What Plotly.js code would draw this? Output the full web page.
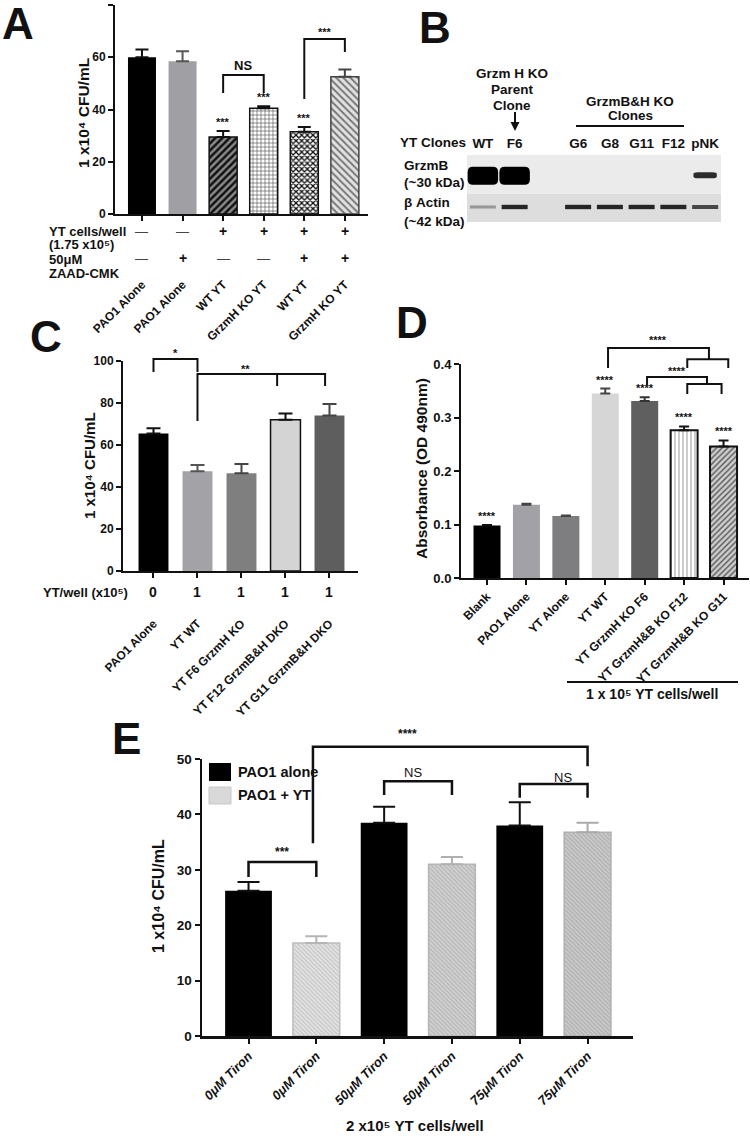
<!DOCTYPE html>
<html><head><meta charset="utf-8">
<script src="https://cdn.plot.ly/plotly-3.0.1.min.js"></script>
<style>body{margin:0;background:#fff}#chart{width:750px;height:1136px}</style>
</head><body><div id="chart"></div>
<script>
// ================= DATA =================
// Panel A
const aCategories = ['PAO1 Alone','PAO1 Alone','WT YT','GrzmH KO YT','WT YT','GrzmH KO YT'];
const aValues = [60, 58.5, 29.5, 40.5, 31.5, 52.5];
const aErrors = [3, 3.8, 2.3, 0.7, 1.8, 2.8];
const aYtCells = ['—','—','+','+','+','+'];
const aZaad = ['—','+','—','—','+','+'];
const aStars = ['','','***','***','***',''];
const aYTicks = [0,20,40,60,80];
// Panel B (western blot, relative band intensities)
const bLanes = ['WT','F6','G6','G8','G11','F12','pNK'];
const bLaneSlots = [0,1,3,4,5,6,7];
const bGrzmB = [1.0,1.0,0,0,0,0,0.6];
const bActin = [0.45,0.95,0.95,0.95,0.95,0.95,0.8];
// Panel C
const cCategories = ['PAO1 Alone','YT WT','YT F6 GrzmH KO','YT F12 GrzmB&H DKO','YT G11 GrzmB&H DKO'];
const cYtPerWell = ['0','1','1','1','1'];
const cValues = [65.5, 47.5, 46.5, 72, 74];
const cErrors = [2.5, 3, 4.5, 3, 5.5];
const cYTicks = [0,20,40,60,80,100];
// Panel D
const dCategories = ['Blank','PAO1 Alone','YT Alone','YT WT','YT GrzmH KO F6','YT GrzmH&B KO F12','YT GrzmH&B KO G11'];
const dValues = [0.098,0.137,0.116,0.345,0.331,0.276,0.246];
const dErrors = [0.001,0.002,0.001,0.009,0.007,0.007,0.011];
const dStars = ['****','','','****','****','****','****'];
const dYTicks = [0,0.1,0.2,0.3,0.4];
// Panel E
const eCategories = ['0μM Tiron','0μM Tiron','50μM Tiron','50μM Tiron','75μM Tiron','75μM Tiron'];
const eSeries = ['PAO1 alone','PAO1 + YT'];
const eValues = [26.2,16.8,38.5,31.0,38.0,36.8];
const eErrors = [1.6,1.2,2.9,1.3,4.2,1.7];
const eYTicks = [0,10,20,30,40,50];

// ================= GEOMETRY / STYLE =================
const W=750,H=1136;
const FONT='"Liberation Sans", Arial, Helvetica, sans-serif';
const INK='#111';
const P={
 A:{x:[115,368],y:[214,5],xr:[-0.665,5.57],yr:[0,80],xa:'x',ya:'y',bw:0.69,ew:6.5},
 C:{x:[123,358],y:[571,361],xr:[-0.693,4.648],yr:[0,100],xa:'x2',ya:'y2',bw:0.68,ew:7},
 D:{x:[461,749],y:[578,364],xr:[-0.66,6.646],yr:[0,0.4],xa:'x3',ya:'y3',bw:0.685,ew:5},
 E:{x:[202,633],y:[1036,759],xr:[-0.686,5.67],yr:[0,50],xa:'x4',ya:'y4',bw:0.69,ew:11},
 B:{x:[467,721],y:[222,155],xr:[-0.5,7.5],yr:[0,1],xa:'x5',ya:'y5'}
};
const fx=px=>px/W, fy=py=>1-py/H;
const toPx=(p,v)=>p.x[0]+(v-p.xr[0])/(p.xr[1]-p.xr[0])*(p.x[1]-p.x[0]);
const toPy=(p,v)=>p.y[0]+(v-p.yr[0])/(p.yr[1]-p.yr[0])*(p.y[1]-p.y[0]);
function fnt(size,extra){return Object.assign({family:FONT,size:size,color:INK,weight:'bold'},extra||{});}

const styleA=[
 {color:'#000'},
 {color:'#a0a0a4',ec:'#555'},
 {color:'#8a8a8a',pat:'/',fg:'#111',ps:5,sol:0.5,lc:INK,lw:1.5},
 {color:'#ffffff',pat:'+',fg:'#555',ps:4,sol:0.3,lc:INK,lw:1.5},
 {color:'#ffffff',pat:'x',fg:'#111',ps:4,sol:0.55,lc:INK,lw:1.5},
 {color:'#e2e2e2',pat:'\\',fg:'#777',ps:5,sol:0.4,lc:'#444',lw:1.5,ec:'#444'}
];
const styleC=[
 {color:'#000'},
 {color:'#a3a3a7',ec:'#555'},
 {color:'#7f7f7f',ec:'#444'},
 {color:'#d4d4d4',lc:INK,lw:1.5},
 {color:'#5e5e5e',ec:'#444'}
];
const styleD=[
 {color:'#000'},
 {color:'#a2a2a6',ec:'#444'},
 {color:'#7e7e80',ec:'#444'},
 {color:'#d6d6d6',ec:'#444'},
 {color:'#5f5f5f',ec:'#333'},
 {color:'#ffffff',pat:'|',fg:'#aaa',ps:4,sol:0.3,lc:INK,lw:2},
 {color:'#cfcfcf',pat:'/',fg:'#555',ps:4,sol:0.35,lc:INK,lw:2}
];
const styleE=[
 {color:'#000'},
 {color:'#e4e4e4',pat:'\\',fg:'#c4c4c4',ps:3,sol:0.4,lc:'#bdbdbd',lw:1.5,ec:'#b5b5b5'},
 {color:'#000'},
 {color:'#d2d2d2',pat:'\\',fg:'#b4b4b4',ps:3,sol:0.4,lc:'#b5b5b5',lw:1.5,ec:'#b0b0b0'},
 {color:'#000'},
 {color:'#cbcbcb',pat:'\\',fg:'#adadad',ps:3,sol:0.4,lc:'#b0b0b0',lw:1.5,ec:'#aaa'}
];

// ================= TRACES =================
const traces=[];
function addBars(p,values,errors,styles){
 values.forEach((v,i)=>{
  const s=styles[i];
  traces.push({type:'bar',x:[i],y:[v],width:p.bw,xaxis:p.xa,yaxis:p.ya,
   marker:{color:s.color,line:{color:s.lc||s.color,width:s.lw||0},
     pattern:s.pat?{shape:s.pat,fgcolor:s.fg,bgcolor:s.color,size:s.ps,solidity:s.sol,fillmode:'replace'}:{shape:''}},
   error_y:{type:'data',symmetric:false,array:[errors[i]],arrayminus:[0],color:s.ec||INK,thickness:2,width:p.ew},
   showlegend:false,hoverinfo:'skip'});
 });
}
addBars(P.A,aValues,aErrors,styleA);
addBars(P.C,cValues,cErrors,styleC);
addBars(P.D,dValues,dErrors,styleD);
addBars(P.E,eValues,eErrors,styleE);

// blot: actin bands as thick line segments on x5/y5
const ACTIN_Y=0.224;
bLaneSlots.forEach((s,i)=>{
 const g=Math.round(255*(1-bActin[i]*0.9));
 traces.push({type:'scatter',mode:'lines',x:[s-0.41,s+0.41],y:[ACTIN_Y,ACTIN_Y],xaxis:'x5',yaxis:'y5',
  line:{color:`rgb(${g},${g},${g})`,width:2+2.5*bActin[i]},showlegend:false,hoverinfo:'skip'});
});

// ================= AXES =================
function xAx(p,cats,extra){
 return Object.assign({domain:[fx(p.x[0]),fx(p.x[1])],range:p.xr,anchor:p.ya,showline:true,linecolor:INK,linewidth:2,
  ticks:'outside',ticklen:5,tickwidth:2,tickcolor:INK,tickvals:cats.map((_,i)=>i),ticktext:cats,tickangle:-45,
  tickfont:fnt(12),showgrid:false,zeroline:false,fixedrange:true},extra||{});
}
function yAx(p,vals,extra){
 return Object.assign({domain:[fy(p.y[0]),fy(p.y[1])],range:p.yr,anchor:p.xa,showline:true,linecolor:INK,linewidth:2,
  ticks:'outside',ticklen:5,tickwidth:2,tickcolor:INK,tickvals:vals,tickfont:fnt(12),showgrid:false,zeroline:false,fixedrange:true},extra||{});
}

// ================= SHAPES & ANNOTATIONS =================
const shapes=[], anns=[];
function ann(text,px,py,opts){
 const o=Object.assign({size:12},opts||{});
 const a={xref:'paper',yref:'paper',x:fx(px),y:fy(py),text:text,showarrow:false,xanchor:o.xanchor||'center',yanchor:o.yanchor||'middle',
  font:fnt(o.size,o.font||{})};
 if(o.textangle!==undefined)a.textangle=o.textangle;
 anns.push(a);
}
function annD(p,text,xv,yv,opts){ann(text,toPx(p,xv),toPy(p,yv),opts);}
function brk(p,segs,w){
 let d='';
 segs.forEach(seg=>{seg.forEach((pt,k)=>{d+=(k?'L':'M')+fx(toPx(p,pt[0])).toFixed(5)+','+fy(toPy(p,pt[1])).toFixed(5)+' ';});});
 shapes.push({type:'path',xref:'paper',yref:'paper',path:d,line:{color:INK,width:w||2}});
}

// Panel letters
ann('A',18,23,{size:44});
ann('B',435,27,{size:44});
ann('C',46,336,{size:44});
ann('D',412,322,{size:44});
ann('E',126,738,{size:44});

// ---- Panel A
ann('1 x10⁴ CFU/mL',83,113,{size:15.5,textangle:-90});
aStars.forEach((s,i)=>{ if(s) annD(P.A,s,i,aValues[i]+aErrors[i]+3.6,{size:11}); });
brk(P.A,[[[2,46.3],[2,53.2],[3,53.2],[3,46.3]]]);
annD(P.A,'NS',2.5,57,{size:13});
brk(P.A,[[[4,44],[4,67],[5,67],[5,62]]]);
annD(P.A,'***',4.5,69.5,{size:11});
ann('YT cells/well',47,231,{size:13,xanchor:'left'});
ann('(1.75 x10⁵)',47,245,{size:13,xanchor:'left'});
ann('50μM',47,259,{size:13,xanchor:'left'});
ann('ZAAD-CMK',47,274,{size:13,xanchor:'left'});
aYtCells.forEach((s,i)=>ann(s,toPx(P.A,i),231,{size:s==='+'?14:13,font:s==='+'?{}:{weight:'normal',color:'#444'}}));
aZaad.forEach((s,i)=>ann(s,toPx(P.A,i),258,{size:s==='+'?14:13,font:s==='+'?{}:{weight:'normal',color:'#444'}}));

// ---- Panel B (blot)
shapes.push({type:'rect',xref:'x5',yref:'y5',x0:-0.5,x1:7.5,y0:0.42,y1:1,fillcolor:'#ebebeb',line:{width:0},layer:'below'});
shapes.push({type:'rect',xref:'x5',yref:'y5',x0:-0.5,x1:7.5,y0:0,y1:0.42,fillcolor:'#dddddd',line:{width:0},layer:'below'});
function rrect(x0,x1,y0,y1,rx,ry){
 return `M${x0+rx},${y0} L${x1-rx},${y0} Q${x1},${y0} ${x1},${y0+ry} L${x1},${y1-ry} Q${x1},${y1} ${x1-rx},${y1} L${x0+rx},${y1} Q${x0},${y1} ${x0},${y1-ry} L${x0},${y0+ry} Q${x0},${y0} ${x0+rx},${y0} Z`;
}
bLaneSlots.forEach((s,i)=>{
 const v=bGrzmB[i]; if(v<=0) return;
 const hw=0.2+0.28*v, hh=0.03+0.105*Math.pow(v,4), cy=0.69+0.02*(1-v);
 const g=Math.round(110*(1-v));
 shapes.push({type:'path',xref:'x5',yref:'y5',path:rrect(s-hw,s+hw,cy-hh,cy+hh,hw*0.35,hh*0.6),
  fillcolor:`rgb(${g},${g},${g})`,line:{width:0}});
});
ann('YT Clones',398,142,{size:13.5,xanchor:'left'});
ann('GrzmB',402,165,{size:13.5,xanchor:'left'});
ann('(~30 kDa)',402,183,{size:13.5,xanchor:'left'});
ann('β Actin',402,203,{size:13.5,xanchor:'left'});
ann('(~42 kDa)',402,221,{size:13.5,xanchor:'left'});
ann('Grzm H KO',512,73,{size:13.5});
ann('Parent',512,89,{size:13.5});
ann('Clone',512,105,{size:13.5});
shapes.push({type:'line',xref:'paper',yref:'paper',x0:fx(515),x1:fx(515),y0:fy(112),y1:fy(124),line:{color:INK,width:2}});
shapes.push({type:'path',xref:'paper',yref:'paper',path:`M${fx(510.5)},${fy(122)} L${fx(519.5)},${fy(122)} L${fx(515)},${fy(131)} Z`,fillcolor:INK,line:{width:0}});
ann('GrzmB&H KO',630,101,{size:13.5});
ann('Clones',630,116,{size:13.5});
shapes.push({type:'line',xref:'paper',yref:'paper',x0:fx(576),x1:fx(684),y0:fy(126),y1:fy(126),line:{color:INK,width:2}});

// ---- Panel C
ann('1 x10⁴ CFU/mL',90,466,{size:15,textangle:-90});
brk(P.C,[[[0,94.8],[0,100.95],[1,100.95],[1,94.8]]]);
annD(P.C,'*',0.5,103.6,{size:11});
brk(P.C,[[[1,71.4],[1,93.8],[3.9,93.8],[3.9,88.1]],[[2.81,93.8],[2.81,88.1]]]);
annD(P.C,'**',2.08,96,{size:11});
ann('YT/well (x10⁵)',130,592,{size:13,xanchor:'right'});
cYtPerWell.forEach((s,i)=>ann(s,toPx(P.C,i),592,{size:14}));

// ---- Panel D
ann('Absorbance (OD 490nm)',422,469,{size:15.5,textangle:-90});
dStars.forEach((s,i)=>{ if(s) annD(P.D,s,i,dValues[i]+dErrors[i]+0.017,{size:11}); });
brk(P.D,[[[3.07,0.3925],[3.07,0.430],[5.63,0.430],[5.63,0.409]],[[5.08,0.3925],[5.08,0.409],[6.12,0.409],[6.12,0.3925]]]);
annD(P.D,'****',4.34,0.445,{size:11});
brk(P.D,[[[4.06,0.3607],[4.06,0.3757],[5.58,0.3757],[5.58,0.3626]],[[5.08,0.344],[5.08,0.3626],[5.95,0.3626],[5.95,0.344]]]);
annD(P.D,'****',4.82,0.387,{size:11});
shapes.push({type:'line',xref:'paper',yref:'paper',x0:fx(567),x1:fx(738),y0:fy(682),y1:fy(682),line:{color:INK,width:2}});
ann('1 x 10⁵ YT cells/well',652,694,{size:14});

// ---- Panel E
ann('1 x10⁴ CFU/mL',159,896,{size:16,textangle:-90});
brk(P.E,[[[0,28.7],[0,31.4],[1,31.4],[1,28.7]]],2.5);
annD(P.E,'***',0.5,33.2,{size:12});
brk(P.E,[[[0.95,34.8],[0.95,52.2],[5,52.2],[5,48.7]]],2.5);
annD(P.E,'****',2.35,54.6,{size:12});
brk(P.E,[[[2,43.5],[2,46.0],[3,46.0],[3,43.5]]],2.5);
annD(P.E,'NS',2.43,47.6,{size:13,font:{weight:'normal',family:'"Liberation Sans Narrow", "Liberation Sans", Arial'}});
brk(P.E,[[[4,43.0],[4,45.5],[5,45.5],[5,43.0]]],2.5);
annD(P.E,'NS',4.64,46.6,{size:13,font:{weight:'normal',family:'"Liberation Sans Narrow", "Liberation Sans", Arial'}});
// legend
shapes.push({type:'rect',xref:'paper',yref:'paper',x0:fx(209),x1:fx(231),y0:fy(763),y1:fy(781),fillcolor:'#000',line:{width:0}});
shapes.push({type:'rect',xref:'paper',yref:'paper',x0:fx(209),x1:fx(231),y0:fy(787),y1:fy(804),fillcolor:'#d9d9d9',line:{color:'#c8c8c8',width:1}});
ann(eSeries[0],236,772,{size:14.5,xanchor:'left'});
ann(eSeries[1],236,795,{size:14.5,xanchor:'left'});
ann('2 x10⁵ YT cells/well',415,1125,{size:15});

// ================= LAYOUT =================
const layout={
 width:W,height:H,margin:{l:0,r:0,t:0,b:0},paper_bgcolor:'#fff',plot_bgcolor:'rgba(0,0,0,0)',
 barmode:'overlay',showlegend:false,font:{family:FONT,color:INK},
 xaxis:xAx(P.A,aCategories,{ticklabelstandoff:52}),
 yaxis:yAx(P.A,aYTicks),
 xaxis2:xAx(P.C,cCategories,{ticklabelstandoff:34}),
 yaxis2:yAx(P.C,cYTicks),
 xaxis3:xAx(P.D,dCategories,{tickfont:fnt(12)}),
 yaxis3:yAx(P.D,dYTicks,{tickformat:'.1f',tickfont:fnt(13)}),
 xaxis4:xAx(P.E,eCategories,{tickfont:fnt(13,{style:'italic'}),linewidth:2.5}),
 yaxis4:yAx(P.E,eYTicks,{tickfont:fnt(13.5),linewidth:2.5}),
 xaxis5:{domain:[fx(P.B.x[0]),fx(P.B.x[1])],range:P.B.xr,anchor:'y5',side:'top',showline:false,ticks:'',ticklabelstandoff:3,
   tickvals:bLaneSlots,ticktext:bLanes,tickfont:fnt(13.5),showgrid:false,zeroline:false,fixedrange:true},
 yaxis5:{domain:[fy(P.B.y[0]),fy(P.B.y[1])],range:P.B.yr,anchor:'x5',visible:false,fixedrange:true},
 shapes:shapes,annotations:anns
};
Plotly.newPlot('chart',traces,layout,{displayModeBar:false,staticPlot:true});
</script></body></html>
